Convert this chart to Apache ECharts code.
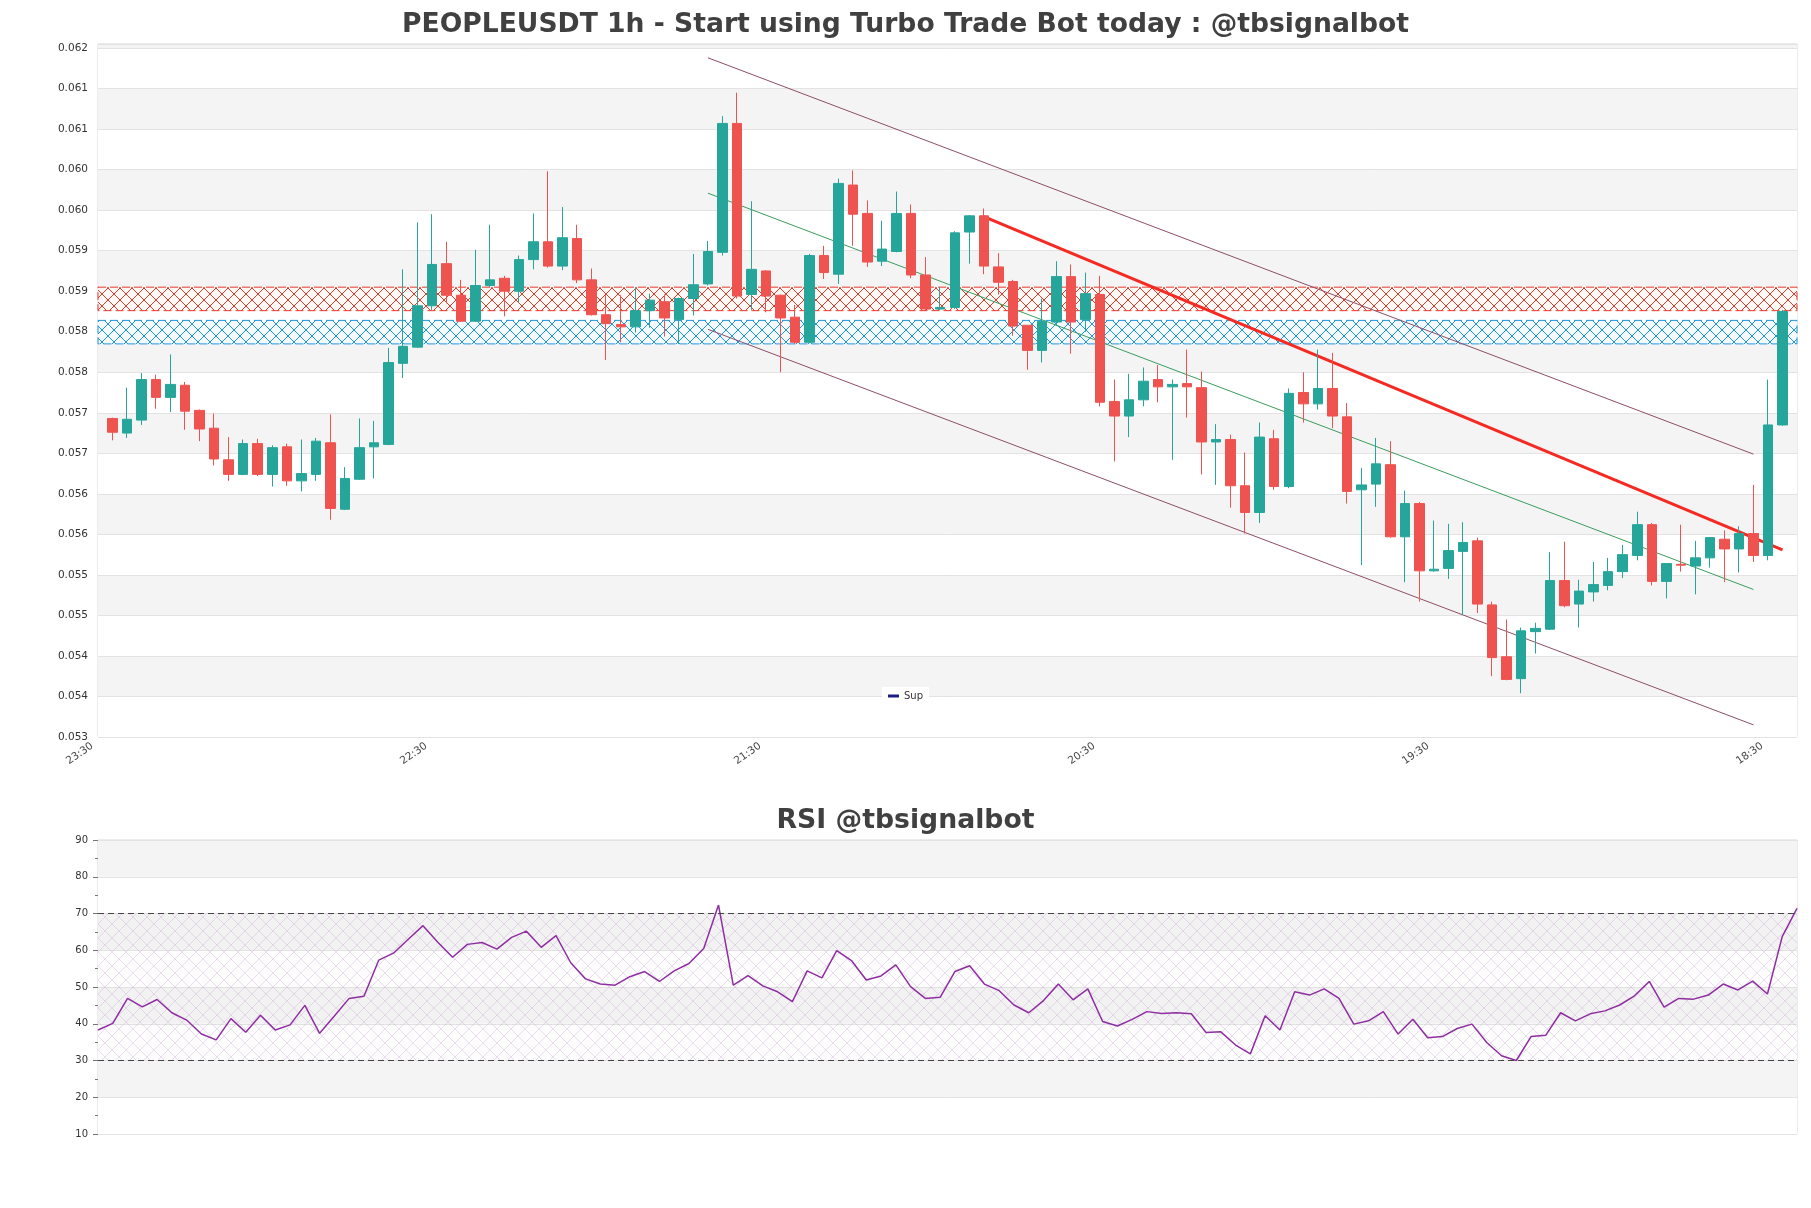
<!DOCTYPE html>
<html>
<head>
<meta charset="utf-8">
<title>PEOPLEUSDT 1h</title>
<script src="https://cdn.jsdelivr.net/npm/echarts@6.0.0/dist/echarts.min.js"></script>
<style>
  html, body { margin: 0; padding: 0; background: #fff; }
  #chart { width: 1811px; height: 1208px; }
</style>
</head>
<body>
<div id="chart"></div>
<script>
// hourly candles, oldest first
const open = [
  0.05743, 0.05725, 0.05741, 0.05791, 0.05769, 0.05784, 0.05753, 0.05731, 0.05692, 0.05674,
  0.05712, 0.05674, 0.05708, 0.05666, 0.05674, 0.05713, 0.05631, 0.05668, 0.05708, 0.05711,
  0.05811, 0.05831, 0.05882, 0.05934, 0.05895, 0.05863, 0.05907, 0.05916, 0.05900, 0.05939,
  0.05961, 0.05931, 0.05965, 0.05914, 0.05871, 0.05859, 0.05856, 0.05876, 0.05887, 0.05865,
  0.05891, 0.05909, 0.05948, 0.06107, 0.05896, 0.05925, 0.05895, 0.05868, 0.05837, 0.05944,
  0.05921, 0.06031, 0.05996, 0.05937, 0.05949, 0.05996, 0.05920, 0.05878, 0.05880, 0.05973,
  0.05993, 0.05930, 0.05912, 0.05858, 0.05827, 0.05862, 0.05918, 0.05865, 0.05896, 0.05764,
  0.05746, 0.05766, 0.05791, 0.05782, 0.05786, 0.05781, 0.05714, 0.05717, 0.05660, 0.05627,
  0.05718, 0.05659, 0.05775, 0.05761, 0.05780, 0.05745, 0.05655, 0.05662, 0.05686, 0.05597,
  0.05638, 0.05555, 0.05558, 0.05579, 0.05592, 0.05513, 0.05449, 0.05422, 0.05480, 0.05483,
  0.05543, 0.05514, 0.05529, 0.05537, 0.05554, 0.05574, 0.05612, 0.05542, 0.05563, 0.05561,
  0.05571, 0.05594, 0.05582, 0.05601, 0.05574, 0.05735
];
const high = [
  0.05744, 0.05781, 0.05799, 0.05797, 0.05822, 0.05788, 0.05754, 0.05749, 0.05720, 0.05717,
  0.05718, 0.05710, 0.05712, 0.05717, 0.05719, 0.05748, 0.05683, 0.05743, 0.05740, 0.05830,
  0.05927, 0.05985, 0.05995, 0.05961, 0.05914, 0.05951, 0.05982, 0.05919, 0.05944, 0.05996,
  0.06048, 0.06004, 0.05982, 0.05928, 0.05895, 0.05895, 0.05905, 0.05897, 0.05896, 0.05892,
  0.05946, 0.05962, 0.06116, 0.06145, 0.06011, 0.05926, 0.05896, 0.05883, 0.05946, 0.05956,
  0.06039, 0.06049, 0.06012, 0.05987, 0.06023, 0.06007, 0.05942, 0.05905, 0.05974, 0.05994,
  0.06002, 0.05947, 0.05914, 0.05858, 0.05891, 0.05937, 0.05933, 0.05923, 0.05919, 0.05791,
  0.05798, 0.05806, 0.05809, 0.05791, 0.05828, 0.05801, 0.05736, 0.05723, 0.05701, 0.05738,
  0.05729, 0.05780, 0.05800, 0.05828, 0.05824, 0.05762, 0.05682, 0.05719, 0.05715, 0.05654,
  0.05640, 0.05617, 0.05613, 0.05615, 0.05596, 0.05517, 0.05495, 0.05485, 0.05491, 0.05578,
  0.05591, 0.05544, 0.05566, 0.05571, 0.05587, 0.05628, 0.05614, 0.05564, 0.05612, 0.05592,
  0.05596, 0.05605, 0.05610, 0.05661, 0.05791, 0.05877
];
const low = [
  0.05716, 0.05719, 0.05735, 0.05755, 0.05751, 0.05729, 0.05715, 0.05685, 0.05666, 0.05673,
  0.05672, 0.05659, 0.05660, 0.05653, 0.05666, 0.05618, 0.05630, 0.05667, 0.05669, 0.05710,
  0.05793, 0.05830, 0.05877, 0.05885, 0.05862, 0.05862, 0.05905, 0.05869, 0.05886, 0.05927,
  0.05929, 0.05926, 0.05910, 0.05870, 0.05815, 0.05837, 0.05849, 0.05855, 0.05844, 0.05835,
  0.05870, 0.05907, 0.05944, 0.05891, 0.05877, 0.05874, 0.05800, 0.05835, 0.05836, 0.05915,
  0.05909, 0.05956, 0.05930, 0.05931, 0.05948, 0.05916, 0.05877, 0.05877, 0.05878, 0.05934,
  0.05921, 0.05896, 0.05845, 0.05803, 0.05812, 0.05857, 0.05823, 0.05850, 0.05758, 0.05690,
  0.05720, 0.05758, 0.05763, 0.05692, 0.05744, 0.05674, 0.05661, 0.05633, 0.05601, 0.05614,
  0.05655, 0.05657, 0.05738, 0.05754, 0.05731, 0.05638, 0.05562, 0.05634, 0.05596, 0.05541,
  0.05517, 0.05554, 0.05545, 0.05501, 0.05503, 0.05425, 0.05420, 0.05404, 0.05453, 0.05482,
  0.05510, 0.05485, 0.05517, 0.05531, 0.05546, 0.05568, 0.05537, 0.05521, 0.05554, 0.05526,
  0.05559, 0.05541, 0.05553, 0.05566, 0.05568, 0.05734
];
const close = [
  0.05726, 0.05742, 0.05791, 0.05769, 0.05785, 0.05752, 0.05730, 0.05693, 0.05674, 0.05712,
  0.05674, 0.05707, 0.05666, 0.05675, 0.05715, 0.05632, 0.05669, 0.05707, 0.05713, 0.05812,
  0.05832, 0.05882, 0.05933, 0.05895, 0.05863, 0.05907, 0.05914, 0.05900, 0.05939, 0.05961,
  0.05931, 0.05966, 0.05914, 0.05871, 0.05860, 0.05856, 0.05876, 0.05889, 0.05867, 0.05891,
  0.05908, 0.05949, 0.06107, 0.05894, 0.05927, 0.05894, 0.05867, 0.05837, 0.05944, 0.05923,
  0.06033, 0.05995, 0.05936, 0.05952, 0.05996, 0.05920, 0.05878, 0.05880, 0.05972, 0.05993,
  0.05931, 0.05911, 0.05857, 0.05827, 0.05863, 0.05918, 0.05862, 0.05897, 0.05763, 0.05746,
  0.05766, 0.05789, 0.05782, 0.05785, 0.05782, 0.05714, 0.05717, 0.05660, 0.05627, 0.05720,
  0.05659, 0.05774, 0.05761, 0.05780, 0.05746, 0.05653, 0.05661, 0.05687, 0.05597, 0.05638,
  0.05555, 0.05557, 0.05580, 0.05590, 0.05514, 0.05448, 0.05421, 0.05481, 0.05484, 0.05543,
  0.05512, 0.05530, 0.05538, 0.05554, 0.05575, 0.05612, 0.05542, 0.05564, 0.05562, 0.05571,
  0.05596, 0.05582, 0.05601, 0.05574, 0.05735, 0.05875
];
const rsi = [
  38.3, 40.1, 46.9, 44.6, 46.6, 43.0, 41.0, 37.2, 35.6, 41.4,
  37.7, 42.3, 38.3, 39.7, 45.0, 37.4, 42.1, 46.9, 47.5, 57.3,
  59.2, 63.0, 66.7, 62.2, 58.1, 61.6, 62.1, 60.3, 63.5, 65.2,
  60.8, 64.0, 56.6, 52.2, 50.8, 50.5, 52.8, 54.2, 51.5, 54.4,
  56.4, 60.5, 72.3, 50.5, 53.1, 50.3, 48.7, 46.0, 54.4, 52.5,
  59.9, 57.2, 51.9, 53.0, 56.0, 50.1, 46.9, 47.2, 54.2, 55.8,
  50.8, 49.0, 45.1, 43.0, 46.3, 50.8, 46.5, 49.5, 40.6, 39.4,
  41.2, 43.3, 42.8, 43.0, 42.7, 37.6, 37.8, 34.2, 31.8, 42.2,
  38.3, 48.7, 47.8, 49.5, 46.9, 39.9, 40.8, 43.3, 37.2, 41.2,
  36.2, 36.5, 38.7, 39.9, 34.9, 31.3, 30.0, 36.5, 36.9, 43.0,
  40.8, 42.7, 43.5, 45.1, 47.6, 51.5, 44.5, 46.9, 46.7, 47.8,
  50.8, 49.2, 51.6, 48.1, 63.7, 71.4
];

// axis labels
const xTickLabels = ['23:30', '22:30', '21:30', '20:30', '19:30', '18:30'];
const yTickLabels = ['0.053', '0.054', '0.054', '0.055', '0.055', '0.056', '0.056', '0.057', '0.057',
  '0.058', '0.058', '0.059', '0.059', '0.060', '0.060', '0.061', '0.061', '0.062'];

// zones and trend lines (slot index, price)
const resistZone = [0.05905, 0.05876];
const supportZone = [0.05864, 0.05835];
const channelUpper = [[42, 0.06188], [114, 0.05699]];
const channelMid = [[42, 0.06021], [114, 0.05532]];
const channelLower = [[42, 0.05853], [114, 0.05365]];
const downTrend = [[61, 0.05992], [116, 0.05581]];

const SLOTS = 118;     // one empty slot each side of the candles
const LABEL_STEP = 23;
const font = 'DejaVu Sans';

const slots = [];
for (let i = 0; i < SLOTS; i++) slots.push(String(i));
const rsiSlots = rsi.map((v, i) => String(i));
const candles = open.map((o, i) => [i + 1, o, close[i], low[i], high[i]]);

function hatch(size, line, fill) {
  const c = document.createElement('canvas');
  c.width = size;
  c.height = size;
  const ctx = c.getContext('2d');
  if (fill) {
    ctx.fillStyle = fill;
    ctx.fillRect(0, 0, size, size);
  }
  ctx.strokeStyle = line;
  ctx.lineWidth = 1;
  ctx.beginPath();
  ctx.moveTo(0, 0);
  ctx.lineTo(size, size);
  ctx.moveTo(size, 0);
  ctx.lineTo(0, size);
  ctx.stroke();
  return c;
}

const myChart = echarts.init(document.getElementById('chart'));

const trend = (data, color, width) => ({
  type: 'line',
  xAxisIndex: 0,
  yAxisIndex: 0,
  data: data,
  symbol: 'none',
  silent: true,
  z: 2,
  lineStyle: { color: color, width: width },
  itemStyle: { color: color }
});

const options = {
  animation: false,
  backgroundColor: '#ffffff',
  textStyle: { fontFamily: font },
  title: [
    {
      text: 'PEOPLEUSDT 1h - Start using Turbo Trade Bot today : @tbsignalbot',
      left: 'center',
      top: 7,
      textStyle: { fontFamily: font, fontSize: 26.6, fontWeight: 'bold', color: '#404040' }
    },
    {
      text: 'RSI @tbsignalbot',
      left: 'center',
      top: 803,
      textStyle: { fontFamily: font, fontSize: 26.7, fontWeight: 'bold', color: '#404040' }
    }
  ],
  legend: {
    data: ['Sup'],
    left: 'center',
    top: 687,
    icon: 'rect',
    itemWidth: 11,
    itemHeight: 3,
    backgroundColor: '#ffffff',
    padding: [4, 6],
    textStyle: { fontFamily: font, fontSize: 10, color: '#333' }
  },
  grid: [
    { left: 98, top: 44, width: 1699, height: 693, show: true, borderColor: '#d9d9d9', borderWidth: 1 },
    { left: 98, top: 840, width: 1699, height: 294, show: true, borderColor: '#d9d9d9', borderWidth: 1 }
  ],
  xAxis: [
    {
      type: 'category',
      gridIndex: 0,
      data: slots,
      boundaryGap: false,
      axisLine: { show: false },
      axisTick: { show: false },
      splitLine: { show: false },
      axisLabel: {
        interval: (i) => i % LABEL_STEP === 0,
        formatter: (v, i) => xTickLabels[i / LABEL_STEP] || '',
        rotate: 35,
        margin: 4,
        padding: [0, 7, 0, 0],
        fontSize: 10.5,
        color: '#444'
      }
    },
    {
      type: 'category',
      gridIndex: 1,
      data: rsiSlots,
      boundaryGap: false,
      axisLine: { show: false },
      axisTick: { show: false },
      axisLabel: { show: false },
      splitLine: { show: false }
    }
  ],
  yAxis: [
    {
      type: 'value',
      gridIndex: 0,
      min: 0.0535,
      max: 0.06205,
      interval: 0.0005,
      axisLine: { show: false },
      axisTick: { show: false },
      axisLabel: {
        showMaxLabel: false,
        margin: 10,
        fontSize: 10.5,
        color: '#333',
        formatter: (v) => yTickLabels[Math.round((v - 0.0535) / 0.0005)] || ''
      },
      splitLine: { lineStyle: { color: '#e3e3e3' } },
      splitArea: { show: true, areaStyle: { color: ['#ffffff', '#f4f4f4'] } }
    },
    {
      type: 'value',
      gridIndex: 1,
      min: 10,
      max: 90,
      interval: 10,
      axisLine: { show: false },
      axisTick: { show: true, length: 5, lineStyle: { color: '#777' } },
      minorTick: { show: true, splitNumber: 2, length: 3, lineStyle: { color: '#777' } },
      axisLabel: { margin: 10, fontSize: 10, color: '#333' },
      splitLine: { lineStyle: { color: '#e3e3e3' } },
      splitArea: { show: true, areaStyle: { color: ['#ffffff', '#f4f4f4'] } }
    }
  ],
  series: [
    {
      type: 'candlestick',
      xAxisIndex: 0,
      yAxisIndex: 0,
      data: candles,
      encode: { x: 0, y: [1, 2, 3, 4] },
      barWidth: 10,
      z: 3,
      silent: true,
      itemStyle: {
        color: '#26a69a',
        color0: '#ef5350',
        borderColor: '#26a69a',
        borderColor0: '#ef5350',
        borderWidth: 1
      },
      markArea: {
        silent: true,
        data: [
          [
            {
              yAxis: resistZone[0],
              itemStyle: {
                color: { image: hatch(12, '#e8392f', 'rgba(255,248,244,0.9)'), repeat: 'repeat' },
                borderColor: '#e8392f',
                borderWidth: 1,
                borderType: [8, 4]
              }
            },
            { yAxis: resistZone[1] }
          ],
          [
            {
              yAxis: supportZone[0],
              itemStyle: {
                color: { image: hatch(12, '#2196e0', 'rgba(244,250,255,0.9)'), repeat: 'repeat' },
                borderColor: '#2196e0',
                borderWidth: 1,
                borderType: [8, 4]
              }
            },
            { yAxis: supportZone[1] }
          ]
        ]
      }
    },
    trend(channelUpper, '#8c4f68', 1),
    trend(channelMid, '#3a9d5d', 1),
    trend(channelLower, '#8c4f68', 1),
    trend(downTrend, '#f52a22', 3),
    {
      name: 'Sup',
      type: 'line',
      xAxisIndex: 0,
      yAxisIndex: 0,
      data: [],
      symbol: 'none',
      lineStyle: { color: '#1c1c8a' },
      itemStyle: { color: '#1c1c8a' }
    },
    {
      type: 'line',
      xAxisIndex: 1,
      yAxisIndex: 1,
      data: rsi,
      symbol: 'none',
      silent: true,
      z: 3,
      lineStyle: { color: '#8e2ea0', width: 1.5 },
      itemStyle: { color: '#8e2ea0' },
      markArea: {
        silent: true,
        data: [
          [
            {
              yAxis: 70,
              itemStyle: { color: { image: hatch(14, 'rgba(185,150,200,0.32)', 'rgba(235,215,240,0.05)'), repeat: 'repeat' } }
            },
            { yAxis: 30 }
          ]
        ]
      },
      markLine: {
        silent: true,
        symbol: 'none',
        label: { show: false },
        lineStyle: { color: '#444', width: 1, type: [6, 4] },
        data: [{ yAxis: 70 }, { yAxis: 30 }]
      }
    }
  ]
};

myChart.setOption(options);
window.onresize = function () {
  myChart.resize();
};
</script>
</body>
</html>
